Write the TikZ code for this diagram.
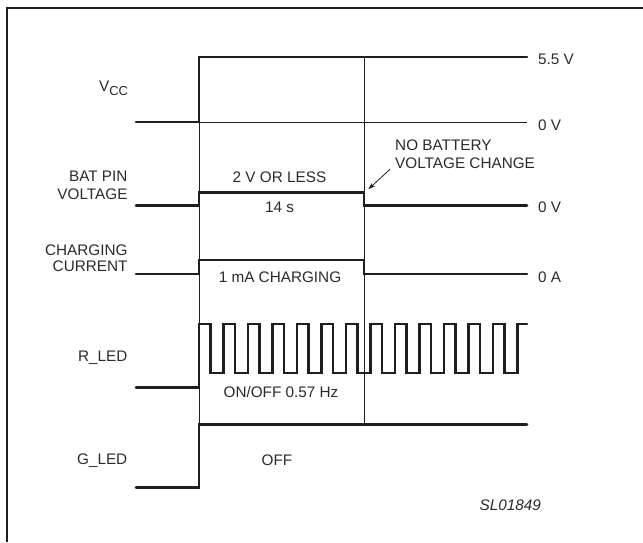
\documentclass[tikz,border=0pt]{standalone}
\usepackage{fontspec}
\setmainfont{Liberation Sans}
\usetikzlibrary{arrows.meta}
\definecolor{ink}{HTML}{1E1E1E}
\definecolor{txt}{HTML}{2A2A2A}
\begin{document}
\begin{tikzpicture}[x=1pt,y=-1pt,
  sig/.style={line width=2.6pt, line cap=round, line join=miter, draw=ink},
  thinline/.style={line width=0.8pt, draw=ink},
  lbl/.style={font=\fontsize{15.3}{17}\selectfont, text=txt, inner sep=0pt},
  leftlbl/.style={lbl, anchor=base east},
  rightlbl/.style={lbl, anchor=base west},
  midlbl/.style={lbl, anchor=base},
]
\useasboundingbox (0,0) rectangle (643,542);
% frame (only left and top edges are inside the picture)
\draw[line width=1.6pt, draw=ink] (7,542) -- (7,8) -- (643,8);

% key coordinates
\coordinate (vccL) at (136,122);
\coordinate (vccR) at (199,122);
\coordinate (vccH) at (199,57);
\coordinate (vccE) at (527,57);
\coordinate (zeroE) at (527,122);
\coordinate (batFall) at (364,192.5);
\coordinate (arrowStart) at (390,169.3);
\coordinate (arrowTip) at (368.3,189.3);

% thin reference lines
\draw[thinline] (vccR) -- (zeroE);
\draw[thinline] (199,122) -- (199,424);
\draw[thinline] (364,57) -- (364,424);

% VCC
\draw[sig] (vccL) -- (vccR) -- (vccH) -- (vccE);
% BAT PIN VOLTAGE
\draw[sig] (136,205.5) -- (199,205.5) -- (199,192.5) -- (batFall) -- (364,205.5) -- (527,205.5);
% CHARGING CURRENT
\draw[sig] (136,274) -- (199,274) -- (199,260) -- (364,260) -- (364,274) -- (527,274);
% R_LED
\draw[sig] (136,387.5) -- (199,387.5)
  foreach \k in {0,...,12} { -- ({199+24.5*\k},324) -- ({210.5+24.5*\k},324)
                              -- ({210.5+24.5*\k},373) -- ({223.5+24.5*\k},373) }
  -- (517.5,324) -- (527,324);
% G_LED
\draw[sig] (136,487.5) -- (199,487.5) -- (199,424.5) -- (527,424.5);

% left labels
\node[leftlbl] (vcc) at (128.3,91.5) {V\raisebox{-3.6pt}{\fontsize{13}{13}\selectfont CC}};
\node[leftlbl] (bat1) at (127.7,181.7) {BAT PIN};
\node[leftlbl] (bat2) at (127.7,199.3) {VOLTAGE};
\node[leftlbl] (chg1) at (127.7,255) {CHARGING};
\node[leftlbl] (chg2) at (127.7,271.7) {CURRENT};
\node[leftlbl] (rled) at (127.7,361.5) {R\_LED};
\node[leftlbl] (gled) at (127.5,464.5) {G\_LED};

% right labels
\node[rightlbl] (v55) at (538,64.5) {5.5 V};
\node[rightlbl] (v0a) at (538,130.5) {0 V};
\node[rightlbl] (v0b) at (538,212.6) {0 V};
\node[rightlbl] (a0) at (538,282.8) {0 A};

% middle labels
\node[midlbl] (less) at (279.5,182) {2 V OR LESS};
\node[midlbl] (time) at (279.6,212.5) {14 s};
\node[midlbl] (ma) at (280,282.7) {1 mA CHARGING};
\node[midlbl] (onoff) at (281,397.5) {ON/OFF 0.57 Hz};
\node[midlbl] (off) at (277,465) {OFF};

% annotation
\node[rightlbl] (nob1) at (395,150) {NO BATTERY};
\node[rightlbl] (nob2) at (395,168.3) {VOLTAGE CHANGE};
\draw[line width=0.8pt, draw=ink, -{Stealth[length=7pt,width=4.5pt]}] (arrowStart) -- (arrowTip);

% figure code
\node[lbl, anchor=base west, font=\fontsize{15.3}{17}\selectfont\itshape] (code) at (479.5,510) {SL01849};
\end{tikzpicture}
\end{document}
